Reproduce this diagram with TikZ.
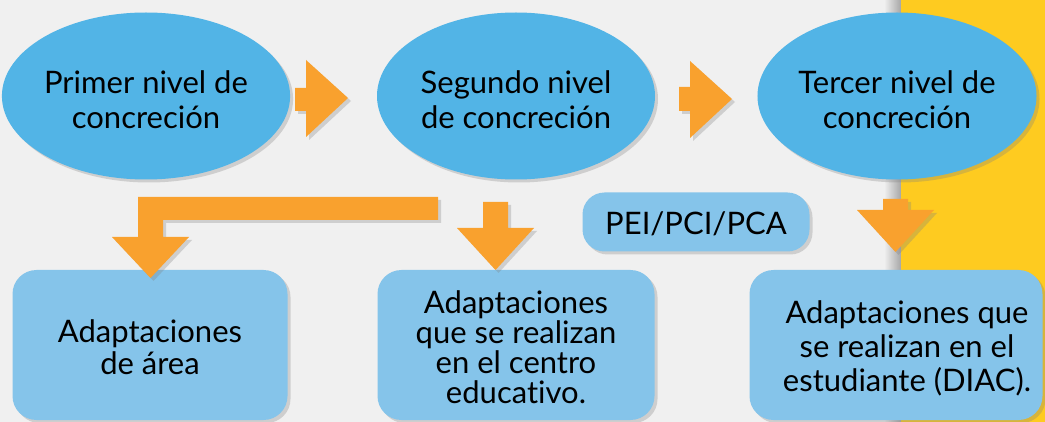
\documentclass[tikz,border=0pt]{standalone}
\usepackage{fontspec}
\setmainfont{Lato}[Ligatures=NoCommon]
\usetikzlibrary{shapes.geometric,shadows}
\definecolor{bgc}{RGB}{240,240,240}
\definecolor{ellblue}{RGB}{82,180,230}
\definecolor{boxblue}{RGB}{133,196,234}
\definecolor{arrorange}{RGB}{249,161,46}
\definecolor{yel}{RGB}{254,203,32}
\newcommand\topstrut[1]{\rule{0pt}{#1}}
\tikzset{
  shad/.style={drop shadow={opacity=0.3, shadow xshift=3pt, shadow yshift=-3pt}},
  ell/.style={ellipse, fill=ellblue, shad, minimum width=278pt, minimum height=167pt,
    inner sep=0pt, align=center, font=\fontsize{31}{35}\selectfont},
  lbox/.style={rectangle, rounded corners=24pt, fill=boxblue, shad, inner sep=0pt,
    align=center, font=\fontsize{31}{32}\selectfont},
  blockarrow/.style={fill=arrorange, shad}
}
\begin{document}
\begin{tikzpicture}[x=1pt,y=-1pt]
\useasboundingbox (0,0) rectangle (1045,422);
\clip (0,0) rectangle (1045,422);
\fill[bgc] (0,0) rectangle (1045,422);
\shade[left color=bgc, right color=black!35] (884,0) rectangle (901,422);
\fill[yel] (901,0) rectangle (1045,422);

% top ellipses
\node[ell] (n1) at (146,96) {\topstrut{30pt}Primer nivel de\\concreción};
\node[ell] (n2) at (516,96) {\topstrut{30pt}Segundo nivel\\de concreción};
\node[ell] (n3) at (897,96) {\topstrut{30pt}Tercer nivel de\\concreción};

% right block arrows
\fill[blockarrow] (295,88)--(306,88)--(306,60)--(348,98)--(306,137)--(306,111)--(295,111)--cycle;
\fill[blockarrow] (679,87)--(690,87)--(690,61)--(732,99)--(690,138)--(690,111)--(679,111)--cycle;

% PEI label
\node[lbox, rounded corners=22pt, minimum width=227pt, minimum height=59pt] (pei) at (696,222) {\topstrut{26pt}PEI/PCI/PCA};

% bottom boxes
\node[lbox, minimum width=275pt, minimum height=150pt] (b1) at (150,345) {\topstrut{28pt}Adaptaciones\\de área};
\node[lbox, minimum width=277pt, minimum height=150pt, font=\fontsize{31}{30}\selectfont] (b2) at (516,345) {\topstrut{28pt}Adaptaciones\\que se realizan\\en el centro\\educativo.};
\node[lbox, minimum width=293pt, minimum height=150pt, font=\fontsize{31}{34}\selectfont] (b3) at (896,345) {\hspace*{22pt}\topstrut{30pt}Adaptaciones que\\\hspace*{22pt}se realizan en el\\\hspace*{22pt}estudiante (DIAC).};

% down block arrows
\fill[blockarrow] (438,197)--(138,197)--(138,237)--(112,237)--(150.5,278)--(189,237)--(163,237)--(163,220)--(438,220)--cycle;
\fill[blockarrow] (483,202)--(508,202)--(508,228)--(534,228)--(495.5,270)--(457,228)--(483,228)--cycle;
\fill[blockarrow] (883,199)--(908,199)--(908,210)--(934,210)--(895.5,252)--(857,210)--(883,210)--cycle;
\end{tikzpicture}
\end{document}
